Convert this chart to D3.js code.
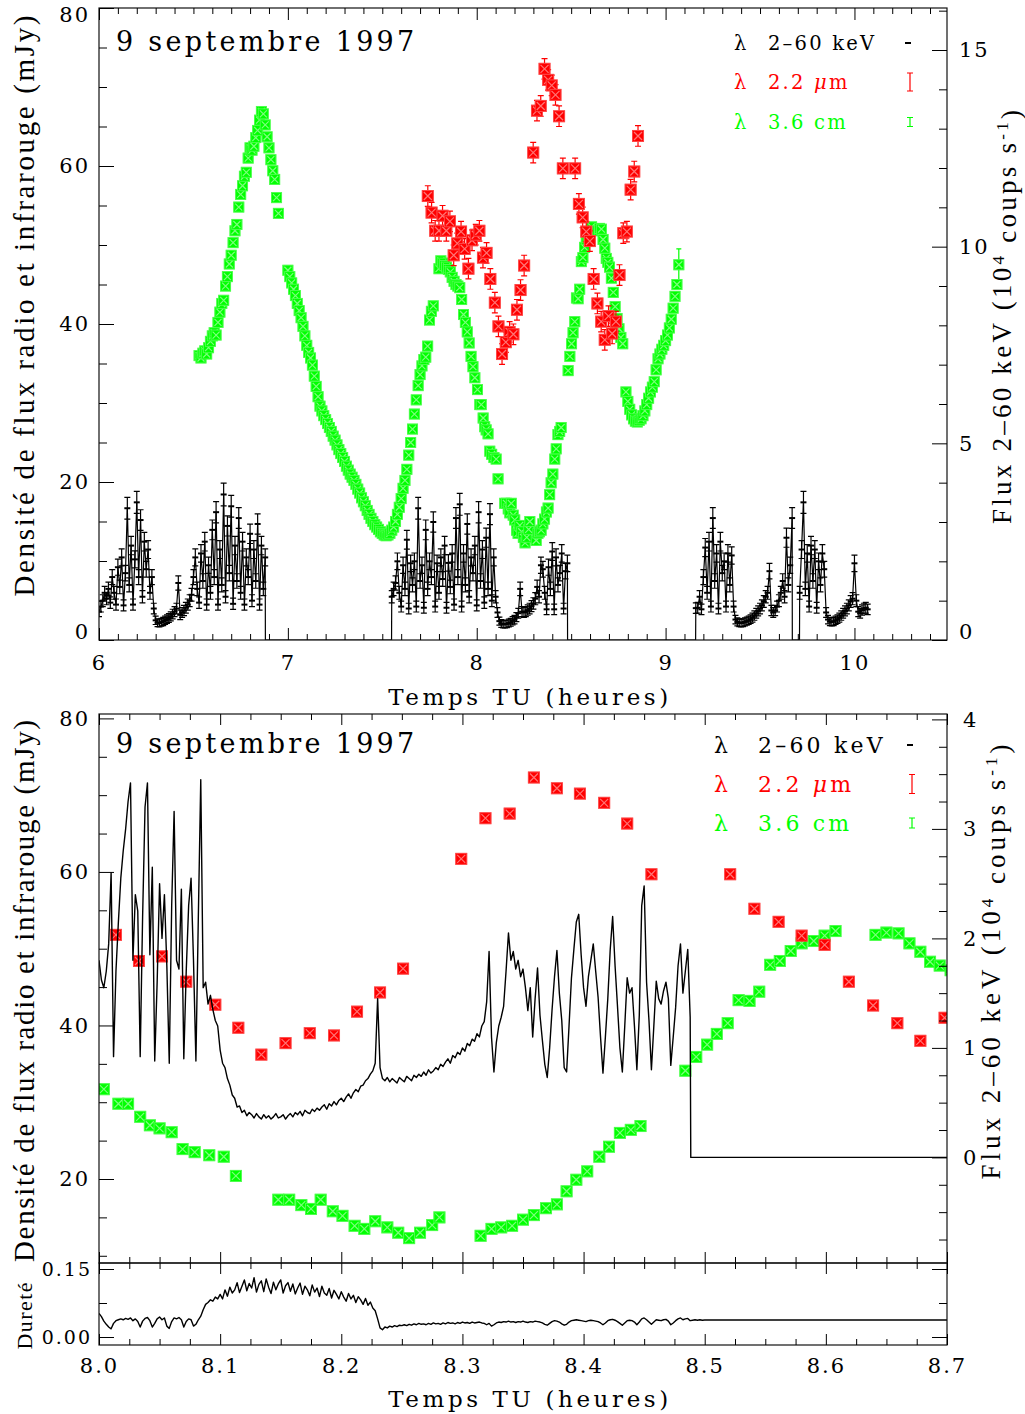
<!DOCTYPE html>
<html>
<head>
<meta charset="utf-8">
<script src="https://cdn.jsdelivr.net/npm/d3@7"></script>
<style>
  body { margin: 0; background: #fff; }
  svg text { font-family: "DejaVu Serif", serif; fill: #000; }
</style>
</head>
<body>
<svg id="chart" width="1025" height="1414"></svg>
<script>
// ---------------- data ----------------
// 2.2 micron (infrared) flux density, mJy
const irTime = [7.741,7.761,7.780,7.800,7.819,7.839,7.858,7.878,7.897,7.917,7.936,7.956,7.975,7.995,
  8.014,8.033,8.052,8.072,8.096,8.115,8.134,8.154,8.174,8.194,8.213,8.232,8.251,8.299,8.319,8.339,
  8.359,8.378,8.397,8.417,8.436,8.456,8.521,8.541,8.561,8.580,8.599,8.619,8.639,8.659,8.678,8.698,
  8.717,8.737,8.756,8.776,8.795,8.815,8.834,8.854];
const irFlux = [56.2,54.1,51.8,51.8,53.7,51.8,53.0,48.7,50.2,51.7,49.5,47.0,50.6,51.3,
  51.8,48.4,49.0,45.7,42.7,39.7,36.2,37.7,39.0,38.7,41.8,44.3,47.4,61.7,67.0,67.6,
  72.3,70.9,70.2,69.0,66.3,59.7,59.7,55.2,53.5,51.7,50.5,45.7,42.6,40.3,38.0,41.0,
  38.8,40.3,46.2,51.5,51.7,57.0,59.3,63.8];
const irErr = 1.3;

// 3.6 cm (radio) flux density, mJy — segments sampled every 0.01 h
const radioStep = 0.01;
const radioStarts = [6.53, 7.00, 7.80, 8.703, 8.79];
const radioA = [36.0,35.7,36.3,36.6,36.2,37.0,37.8,38.5,38.9,38.6,
  40.2,41.5,42.6,43.0,44.8,46.0,47.6,48.7,50.3,51.8,
  52.6,54.8,56.4,57.5,58.7,59.2,61.0,62.3,62.0,62.5,
  63.6,64.5,65.8,66.9,66.6,65.2,63.7,62.3,60.8,59.4,
  58.3,56.0,54.0];
const radioB = [46.8,46.0,45.2,44.4,43.6,42.6,41.7,40.8,39.7,38.5,
  37.3,36.4,35.7,34.8,33.4,32.1,30.8,29.6,29.0,28.4,
  27.9,27.4,26.9,26.4,25.8,25.3,24.7,24.1,23.6,23.1,
  22.6,22.0,21.5,21.0,20.6,20.2,19.7,19.1,18.6,18.0,
  17.5,17.0,16.4,15.9,15.4,15.0,14.6,14.3,14.0,13.7,
  13.5,13.3,13.2,13.3,13.5,13.9,14.3,15.0,15.9,16.8,
  17.9,19.2,20.2,21.6,23.4,25.0,26.7,28.6,30.4,32.2,
  33.6,34.7,35.5,35.8,37.2,40.5,41.6,42.3];
const radioC = [47.0,48.0,47.7,47.4,47.2,46.9,46.6,45.9,45.4,45.0,
  44.8,44.6,43.1,41.2,40.2,39.0,37.6,35.9,34.6,33.2];
const radioD = [47.2,45.8,44.0,42.2,40.7,39.4,38.3,37.5];
const radioE = [31.4,30.2,29.2,28.5,28.0,27.7,27.6,27.8,28.0,28.4,
  29.0,29.8,30.6,31.4,32.0,32.7,34.2,35.6,36.2,36.8,
  37.3,37.9,38.6,39.5,40.6,42.0,43.5,45.0,47.5];
// finer radio sampling around the 8.0–8.7 h zoom
const radioFineTime = [8.004,8.016,8.024,8.034,8.042,8.050,8.060,8.069,8.079,8.091,8.103,8.113,
  8.148,8.157,8.167,8.175,8.183,8.193,8.201,8.211,8.219,8.228,8.238,8.247,8.256,8.265,8.275,8.281,
  8.315,8.324,8.332,8.341,8.350,8.359,8.369,8.378,8.386,8.394,8.403,8.413,8.421,8.430,8.439,8.447,
  8.484,8.493,8.502,8.510,8.519,8.528,8.537,8.545,8.554,8.562,8.571,8.580,8.590,8.599,8.608,
  8.641,8.650,8.660,8.669,8.678,8.686,8.694];
const radioFineFlux = [31.7,29.8,29.8,28.1,27.0,26.6,26.1,23.9,23.5,23.1,22.9,20.4,
  17.3,17.3,16.6,16.1,17.3,15.8,15.2,13.9,13.5,14.5,13.7,13.0,12.3,13.0,14.0,15.0,
  12.6,13.5,13.7,13.9,14.7,15.3,16.2,16.7,18.4,19.9,21.0,22.9,24.2,26.0,26.4,26.9,
  34.1,35.9,37.5,38.9,40.3,43.3,43.2,44.4,47.9,48.4,49.7,50.7,51.0,51.7,52.3,
  51.8,52.1,52.0,50.7,49.6,48.3,47.8];
const radioErr = 0.5;
const radioLastErr = 2.0;

// 2–60 keV count rate (10^4 counts/s), 0.01 h bins, four observing windows
const xrayBinStep = 0.01;
const xrayStarts = [6.00, 7.55, 9.16, 9.71];
const xray1 = [0.72,0.85,1.00,1.20,1.05,1.30,
  0.95,1.60,1.20,0.90,1.85,1.35,2.10,0.88,1.70,3.35,1.40,2.40,0.90,2.05,
  3.50,1.60,3.05,1.10,2.50,1.80,2.30,1.20,1.60,0.80,
  0.50,0.44,0.43,0.45,0.47,0.50,0.53,0.56,0.60,0.66,
  0.72,0.80,1.45,0.64,0.70,0.75,0.82,0.90,1.00,1.15,
  1.60,2.10,1.30,0.95,2.20,1.50,2.50,0.90,1.90,1.20,
  2.80,1.60,3.25,0.90,2.30,1.40,3.70,1.10,2.90,1.70,
  3.40,0.92,2.40,1.50,3.10,1.20,2.50,0.90,2.10,1.60,
  2.70,1.00,2.30,1.50,2.95,0.90,2.40,1.30,2.10];
const xray2 = [1.10,1.30,1.45,2.00,1.20,
  0.85,1.90,1.30,2.55,0.80,1.95,1.40,2.00,0.85,3.35,
  1.50,1.90,0.82,2.80,1.30,2.00,1.60,3.00,0.85,1.95,
  1.20,2.10,1.55,2.40,0.82,1.96,1.35,2.20,0.90,3.10,
  1.60,3.45,0.85,2.20,1.40,2.95,1.10,2.10,1.70,2.40,
  0.88,3.25,1.50,2.30,0.95,2.60,1.30,3.20,1.00,2.10,
  1.10,0.70,0.48,0.42,0.40,0.40,0.41,0.43,0.45,0.49,
  0.52,0.58,0.68,1.30,0.72,0.70,0.72,0.76,0.80,0.86,
  0.93,1.05,
  1.35,1.10,1.90,1.80,1.20,0.78,1.85,1.30,2.25,0.78,
  2.10,1.40,1.70,2.20,0.80,1.75,1.95];
const xray3 = [0.81,0.82,1.10,0.78,
  1.60,2.35,1.20,2.50,0.85,3.10,1.50,2.20,0.80,2.50,1.70,2.00,0.85,2.20,1.40,2.15,0.85,
  0.52,0.46,0.44,0.43,0.44,0.46,0.48,0.50,0.53,0.57,0.62,0.68,0.74,0.80,0.88,0.98,1.10,1.20,
  1.75,0.75,0.70,0.75,0.85,1.00,1.20,1.50,1.10,2.60,1.40,1.90,3.10];
const xray4 = [1.20,2.30,3.50,1.30,2.20,0.85,2.40,1.50,2.30,0.82,2.00,1.40,2.20,1.80,
  0.70,0.52,0.47,0.46,0.47,0.50,0.53,0.57,0.62,0.68,0.74,0.80,0.88,0.98,1.05,1.95,
  1.00,0.72,0.68,0.76,0.80,0.82,0.78];
const xrayErrScale = 0.15;   // counting error ~ sqrt(rate)

// 2–60 keV high time resolution, every 0.002 h from 8.000 h
const xrayFineStart = 8.0, xrayFineStep = 0.002;
const xrayFine = [1.80,1.62,1.55,1.70,1.95,2.60,0.92,1.70,2.15,2.55,
  2.80,3.00,3.25,3.42,1.80,2.40,2.25,0.92,2.20,3.20,
  3.42,1.85,2.65,0.88,1.60,2.50,2.00,2.40,1.75,0.86,
  2.30,3.16,1.80,1.72,2.45,0.90,1.70,2.30,2.55,1.80,
  0.88,2.20,3.45,1.55,1.60,1.40,1.48,1.35,1.25,1.20,
  0.98,0.86,0.82,0.72,0.66,0.57,0.54,0.46,0.47,0.41,
  0.43,0.38,0.41,0.39,0.36,0.40,0.37,0.35,0.39,0.36,
  0.38,0.35,0.37,0.40,0.36,0.37,0.39,0.35,0.38,0.40,
  0.37,0.41,0.39,0.42,0.38,0.43,0.41,0.40,0.44,0.42,
  0.45,0.43,0.46,0.48,0.44,0.49,0.47,0.51,0.48,0.52,
  0.54,0.51,0.55,0.58,0.54,0.59,0.62,0.60,0.65,0.66,
  0.70,0.72,0.76,0.79,0.86,1.45,0.82,0.72,0.70,0.73,
  0.69,0.72,0.70,0.68,0.73,0.71,0.69,0.74,0.72,0.70,
  0.75,0.73,0.76,0.74,0.78,0.75,0.80,0.77,0.79,0.82,
  0.80,0.85,0.83,0.87,0.90,0.86,0.93,0.91,0.96,0.94,
  1.00,0.97,1.04,1.02,1.08,1.06,1.13,1.10,1.20,1.24,
  1.42,1.88,1.10,0.78,1.05,1.20,1.28,1.38,1.70,2.05,
  1.80,1.88,1.72,1.80,1.65,1.72,1.55,1.34,1.55,1.10,
  1.45,1.73,1.30,1.07,0.85,0.73,1.00,1.35,1.65,1.89,
  1.50,1.25,0.82,0.78,1.20,1.64,1.90,2.15,2.22,1.85,
  1.55,1.38,1.65,1.80,1.95,1.70,1.46,1.10,0.77,1.10,
  1.45,1.90,2.20,1.75,1.38,1.00,0.78,1.20,1.64,1.50,
  1.55,1.20,0.80,1.30,2.30,2.48,1.60,1.25,0.80,1.20,
  1.61,1.45,1.40,1.52,1.60,1.45,0.84,1.10,1.37,1.75,
  1.95,1.50,1.70,1.90,1.28];

// hardness ratio, every 0.002 h from 8.000 h, constant afterwards
const hardStart = 8.0, hardStep = 0.002, hardTail = 0.0375;
const hardness = [0.052,0.045,0.035,0.028,0.022,0.018,0.030,0.036,0.038,0.040,
  0.038,0.041,0.039,0.042,0.036,0.040,0.034,0.022,0.035,0.041,
  0.043,0.036,0.022,0.030,0.040,0.044,0.038,0.042,0.024,0.019,
  0.034,0.042,0.040,0.043,0.038,0.022,0.034,0.040,0.038,0.024,
  0.028,0.038,0.046,0.060,0.072,0.076,0.082,0.079,0.088,0.084,
  0.094,0.084,0.104,0.090,0.110,0.097,0.104,0.120,0.098,0.112,
  0.126,0.102,0.118,0.108,0.131,0.099,0.116,0.124,0.100,0.128,
  0.110,0.096,0.121,0.104,0.117,0.126,0.097,0.113,0.120,0.101,
  0.117,0.095,0.108,0.119,0.094,0.112,0.104,0.091,0.115,0.099,
  0.108,0.089,0.112,0.097,0.092,0.107,0.086,0.103,0.094,0.084,
  0.100,0.088,0.079,0.096,0.084,0.092,0.076,0.089,0.082,0.072,
  0.085,0.070,0.077,0.064,0.058,0.040,0.020,0.016,0.022,0.020,
  0.024,0.022,0.025,0.023,0.026,0.025,0.027,0.025,0.028,0.026,
  0.029,0.027,0.030,0.028,0.029,0.027,0.030,0.028,0.031,0.029,
  0.030,0.028,0.031,0.029,0.032,0.030,0.031,0.029,0.032,0.030,
  0.033,0.031,0.032,0.030,0.033,0.031,0.032,0.033,0.031,0.030,
  0.027,0.030,0.024,0.027,0.031,0.033,0.032,0.034,0.033,0.035,
  0.033,0.034,0.032,0.034,0.033,0.035,0.033,0.032,0.034,0.033,
  0.035,0.034,0.033,0.031,0.028,0.026,0.030,0.034,0.036,0.035,
  0.033,0.029,0.026,0.028,0.033,0.036,0.037,0.038,0.037,0.036,
  0.035,0.034,0.036,0.037,0.036,0.035,0.034,0.031,0.027,0.031,
  0.036,0.038,0.039,0.037,0.034,0.030,0.026,0.031,0.036,0.037,
  0.036,0.033,0.027,0.033,0.040,0.042,0.038,0.033,0.028,0.033,
  0.038,0.037,0.036,0.038,0.039,0.035,0.027,0.031,0.036,0.040,
  0.042,0.038,0.040,0.041,0.036,0.037,0.038,0.037,0.038,0.037,
  0.0375];

// text
const dateLabel = "9 septembre 1997";
const timeLabel = "Temps TU (heures)";
const fluxLabel = "Densité de flux radio et infrarouge (mJy)";
const hardLabel = "Dureté";

// ---------------- layout ----------------
const svg = d3.select("#chart");
const RED = "#ff0000", RED_T = "#ff9c9c";
const GREEN = "#00ff00", GREEN_T = "#a6ffa6";
const INK = "#000";

const P1 = {x0: 99, x1: 947, y0: 8, y1: 640};
const P2 = {x0: 99, x1: 947, y0: 714, y1: 1263};
const P3 = {x0: 99, x1: 947, y0: 1263, y1: 1345};

const xTop = d3.scaleLinear().domain([6, 10.49]).range([P1.x0, P1.x1]);
const yTopL = d3.scaleLinear().domain([0, 80]).range([P1.y1, P1.y0]);
const yTopR = d3.scaleLinear().domain([0, 15]).range([P1.y1, 50]);
const xBot = d3.scaleLinear().domain([8, 8.7]).range([P2.x0, P2.x1]);
const yBotL = d3.scaleLinear().domain([20, 80]).range([1179, 718.4]);
const yBotR = d3.scaleLinear().domain([0, 4]).range([1157.4, 719.4]);
const yHard = d3.scaleLinear().domain([0, 0.15]).range([1337, 1269]);

const defs = svg.append("defs");
[["clipTop", P1], ["clipBot", P2], ["clipHard", P3]].forEach(([id, p]) => {
  defs.append("clipPath").attr("id", id).append("rect")
    .attr("x", p.x0).attr("y", p.y0).attr("width", p.x1 - p.x0).attr("height", p.y1 - p.y0);
});

// ---------------- helpers ----------------
function seriesFromStart(start, step, vals) {
  return vals.map((v, i) => [start + i * step, v]);
}

function squares(g, pts, xs, ys, fill, tint, half) {
  const s = g.selectAll(null).data(pts).enter().append("g")
    .attr("transform", d => `translate(${xs(d[0])},${ys(d[1])})`);
  s.append("rect").attr("x", -half).attr("y", -half)
    .attr("width", 2 * half).attr("height", 2 * half).attr("fill", fill);
  const h = half - 2;
  s.append("path").attr("d", `M${-h},${-h}L${h},${h}M${h},${-h}L${-h},${h}`)
    .attr("stroke", tint).attr("stroke-width", 1.2).attr("opacity", 0.75);
  s.append("rect").attr("x", -half + 0.5).attr("y", -half + 0.5)
    .attr("width", 2 * half - 1).attr("height", 2 * half - 1)
    .attr("fill", "none").attr("stroke", tint).attr("stroke-width", 1).attr("opacity", 0.45);
}

function errorBars(g, pts, xs, ys, errFn, color, cap, width) {
  g.selectAll(null).data(pts).enter().append("path")
    .attr("fill", "none").attr("stroke", color).attr("stroke-width", width || 1)
    .attr("d", d => {
      const x = xs(d[0]), e = errFn(d);
      const ya = ys(d[1] - e), yb = ys(d[1] + e);
      return `M${x},${ya}L${x},${yb}M${x - cap},${ya}L${x + cap},${ya}M${x - cap},${yb}L${x + cap},${yb}`;
    });
}

function styleAxis(g, size, spacing) {
  g.attr("font-family", null).attr("font-size", null);
  g.select(".domain").remove();
  g.selectAll(".tick line").attr("stroke", INK).attr("stroke-width", 1);
  g.selectAll("text").attr("font-size", size).attr("letter-spacing", spacing)
    .attr("font-family", "DejaVu Serif");
}

function axisSet(g, axisFn, scale, majors, minors, majLen, minLen, fmt, pad, fsize) {
  const a = g.append("g");
  a.call(axisFn(scale).tickValues(minors).tickSize(-minLen).tickSizeOuter(0).tickFormat(""));
  styleAxis(a, fsize, 0);
  const b = g.append("g");
  const ax = axisFn(scale).tickValues(majors).tickSize(-majLen).tickSizeOuter(0).tickPadding(pad);
  ax.tickFormat(fmt || "");
  b.call(ax);
  styleAxis(b, fsize, 2);
  return b;
}

function frame(p) {
  svg.append("rect").attr("x", p.x0).attr("y", p.y0).attr("width", p.x1 - p.x0).attr("height", p.y1 - p.y0)
    .attr("fill", "none").attr("stroke", "#111").attr("stroke-width", 1.2);
}

function legend(g, x0, xText, rows, fsize, spacing) {
  rows.forEach(r => {
    g.append("text").attr("x", x0).attr("y", r.y).attr("dy", "0.35em")
      .attr("font-size", fsize).style("fill", r.color).text("λ");
    const t = g.append("text").attr("x", xText).attr("y", r.y).attr("dy", "0.35em")
      .attr("font-size", fsize).attr("letter-spacing", spacing).style("fill", r.color);
    r.parts.forEach(p => {
      t.append("tspan").attr("font-style", p.italic ? "italic" : null).text(p.s);
    });
    const bx = r.barX;
    if (r.bar === 0) {
      g.append("line").attr("x1", bx - 3).attr("x2", bx + 3).attr("y1", r.y).attr("y2", r.y)
        .attr("stroke", r.color).attr("stroke-width", 2);
    } else {
      g.append("path").attr("fill", "none").attr("stroke", r.color).attr("stroke-width", 1.2)
        .attr("d", `M${bx},${r.y - r.bar}L${bx},${r.y + r.bar}M${bx - r.cap},${r.y - r.bar}L${bx + r.cap},${r.y - r.bar}M${bx - r.cap},${r.y + r.bar}L${bx + r.cap},${r.y + r.bar}`);
    }
  });
}

function verticalTitle(x, y, len, size, build) {
  const t = svg.append("text").attr("transform", `translate(${x},${y}) rotate(-90)`)
    .attr("text-anchor", "middle").attr("dy", "0.35em")
    .style("font-family", "'Liberation Serif', serif")
    .attr("font-size", size);
  build(t);
  if (len) t.attr("textLength", len).attr("lengthAdjust", "spacing");
  return t;
}

function fluxTitle(t) {
  t.append("tspan").text("Flux 2–60 keV (10");
  t.append("tspan").attr("dy", "-0.45em").attr("font-size", 17).text("4");
  t.append("tspan").attr("dy", "0.45em").text(" coups s");
  t.append("tspan").attr("dy", "-0.45em").attr("font-size", 17).text("-1");
  t.append("tspan").attr("dy", "0.45em").text(")");
}

// labels at the ends of the top panel's value axes sit just inside the frame
function nudgeEnds(axisG, shifts) {
  axisG.selectAll(".tick text").attr("y", d => (shifts[d] !== undefined ? shifts[d] : 0));
}

// ================= TOP PANEL =================
const gTop = svg.append("g").attr("clip-path", "url(#clipTop)");

// X-ray binned light curve: gaps between windows fall back to zero
let xrayPts = [];
const xraySegs = [xray1, xray2, xray3, xray4];
xraySegs.forEach((vals, k) => {
  const seg = seriesFromStart(xrayStarts[k], xrayBinStep, vals);
  if (k > 0) xrayPts.push([seg[0][0] - 0.001, 0]);
  xrayPts = xrayPts.concat(seg);
  if (k < xraySegs.length - 1) xrayPts.push([seg[seg.length - 1][0] + 0.001, 0]);
});
const xrayBinned = xraySegs.flatMap((vals, k) => seriesFromStart(xrayStarts[k], xrayBinStep, vals));

gTop.append("path").datum(xrayPts)
  .attr("fill", "none").attr("stroke", INK).attr("stroke-width", 1.2)
  .attr("d", d3.line().x(d => xTop(d[0])).y(d => yTopR(d[1])));
errorBars(gTop, xrayBinned, xTop, yTopR, d => xrayErrScale * Math.sqrt(d[1]), INK, 3, 1.2);
gTop.selectAll(null).data(xrayBinned).enter().append("line")
  .attr("x1", d => xTop(d[0]) - 3).attr("x2", d => xTop(d[0]) + 3)
  .attr("y1", d => yTopR(d[1])).attr("y2", d => yTopR(d[1]))
  .attr("stroke", INK).attr("stroke-width", 2);

// radio
const radioSegs = [radioA, radioB, radioC, radioD, radioE];
const radioCoarse = radioSegs.flatMap((vals, k) => seriesFromStart(radioStarts[k], radioStep, vals));
const radioFine = radioFineTime.map((t, i) => [t, radioFineFlux[i]]);
const radioAll = radioCoarse.concat(radioFine).sort((a, b) => a[0] - b[0]);
const radioLastT = radioAll[radioAll.length - 1][0];
errorBars(gTop, radioAll, xTop, yTopL, d => (d[0] === radioLastT ? radioLastErr : radioErr), GREEN, 2.5, 1.2);
squares(gTop, radioAll, xTop, yTopL, GREEN, GREEN_T, 5.5);

// infrared
const irAll = irTime.map((t, i) => [t, irFlux[i]]);
errorBars(gTop, irAll, xTop, yTopL, () => irErr, RED, 3, 1.2);
squares(gTop, irAll, xTop, yTopL, RED, RED_T, 6);

frame(P1);
const gTopAx = svg.append("g");
const topLeftAx = axisSet(gTopAx.append("g").attr("transform", `translate(${P1.x0},0)`), d3.axisLeft, yTopL,
  [0, 20, 40, 60, 80], d3.range(5, 80, 5).filter(v => v % 20), 15, 8, d3.format("d"), 9, 21);
nudgeEnds(topLeftAx, {0: -8, 80: 7});
const topRightAx = axisSet(gTopAx.append("g").attr("transform", `translate(${P1.x1},0)`), d3.axisRight, yTopR,
  [0, 5, 10, 15], d3.range(1, 16.5, 1).filter(v => v % 5), 15, 8, d3.format("d"), 12, 21);
nudgeEnds(topRightAx, {0: -8});
const xTopMinor = d3.range(6.1, 10.49, 0.1).filter(v => Math.abs(v - Math.round(v)) > 0.01);
const xTopB = axisSet(gTopAx.append("g").attr("transform", `translate(0,${P1.y1})`), d3.axisBottom, xTop,
  [6, 7, 8, 9, 10], xTopMinor, 12, 6, d3.format("d"), 10, 21);
xTopB.selectAll("text").attr("y", 23).attr("dy", "0.35em");
axisSet(gTopAx.append("g").attr("transform", `translate(0,${P1.y0})`), d3.axisTop, xTop,
  [6, 7, 8, 9, 10], xTopMinor, 12, 6, null, 10, 21);

// texts
svg.append("text").attr("x", 116).attr("y", 42).attr("dy", "0.35em")
  .attr("font-size", 27).attr("letter-spacing", 3.3).text(dateLabel);
legend(svg.append("g"), 734, 768, [
  {y: 43, color: INK, parts: [{s: "2–60 keV"}], bar: 0, barX: 908},
  {y: 82, color: RED, parts: [{s: "2.2 "}, {s: "μ", italic: true}, {s: "m"}], bar: 9, cap: 3, barX: 910},
  {y: 122, color: GREEN, parts: [{s: "3.6 cm"}], bar: 4.5, cap: 3, barX: 910}
], 19.5, 2.2);
svg.append("text").attr("x", 530).attr("y", 697).attr("dy", "0.35em").attr("text-anchor", "middle")
  .attr("font-size", 23).attr("letter-spacing", 3.6).text(timeLabel);
verticalTitle(24, 306, 581, 29, t => t.text(fluxLabel));
verticalTitle(1002, 317, 414, 27, fluxTitle);

// ================= BOTTOM PANEL =================
const gBot = svg.append("g").attr("clip-path", "url(#clipBot)");
const radioZoom = radioAll.filter(d => d[0] > 7.98 && d[0] < 8.72);
squares(gBot, radioZoom, xBot, yBotL, GREEN, GREEN_T, 6);
const irZoom = irAll.filter(d => d[0] > 7.98 && d[0] < 8.72);
squares(gBot, irZoom, xBot, yBotL, RED, RED_T, 6);

const xrayFinePts = seriesFromStart(xrayFineStart, xrayFineStep, xrayFine);
const lastFine = xrayFinePts[xrayFinePts.length - 1][0];
const xrayFineLine = xrayFinePts.concat([[lastFine + 0.0005, 0], [8.7, 0]]);
gBot.append("path").datum(xrayFineLine)
  .attr("fill", "none").attr("stroke", INK).attr("stroke-width", 1.4).attr("stroke-linejoin", "round")
  .attr("d", d3.line().x(d => xBot(d[0])).y(d => yBotR(d[1])));

frame(P2);
const gBotAx = svg.append("g");
axisSet(gBotAx.append("g").attr("transform", `translate(${P2.x0},0)`), d3.axisLeft, yBotL,
  [20, 40, 60, 80], d3.range(10, 80, 5).filter(v => v % 20), 15, 8, d3.format("d"), 9, 21);
axisSet(gBotAx.append("g").attr("transform", `translate(${P2.x1},0)`), d3.axisRight, yBotR,
  [0, 1, 2, 3, 4], d3.range(-0.75, 4, 0.25).filter(v => Math.abs(v - Math.round(v)) > 0.01), 15, 8, d3.format("d"), 16, 21);
const xMaj = d3.range(8, 8.71, 0.1);
const xMin = d3.range(8.025, 8.7, 0.025).filter(v => Math.abs(v * 10 - Math.round(v * 10)) > 0.01);
axisSet(gBotAx.append("g").attr("transform", `translate(0,${P2.y0})`), d3.axisTop, xBot, xMaj, xMin, 11, 6, null, 8, 21);
axisSet(gBotAx.append("g").attr("transform", `translate(0,${P2.y1})`), d3.axisBottom, xBot, xMaj, xMin, 11, 6, null, 8, 21);

svg.append("text").attr("x", 116).attr("y", 744).attr("dy", "0.35em")
  .attr("font-size", 27).attr("letter-spacing", 3.3).text(dateLabel);
legend(svg.append("g"), 714, 758, [
  {y: 745, color: INK, parts: [{s: "2–60 keV"}], bar: 0, barX: 910},
  {y: 784, color: RED, parts: [{s: "2.2 "}, {s: "μ", italic: true}, {s: "m"}], bar: 9.5, cap: 3, barX: 912},
  {y: 823, color: GREEN, parts: [{s: "3.6 cm"}], bar: 5, cap: 3, barX: 912}
], 22, 3.2);
verticalTitle(24, 991, 542, 29, t => t.text(fluxLabel));
verticalTitle(991, 962, 435, 27, fluxTitle);

// ================= HARDNESS PANEL =================
const gHard = svg.append("g").attr("clip-path", "url(#clipHard)");
const hardPts = seriesFromStart(hardStart, hardStep, hardness).concat([[8.7, hardTail]]);
gHard.append("path").datum(hardPts)
  .attr("fill", "none").attr("stroke", INK).attr("stroke-width", 1.4).attr("stroke-linejoin", "round")
  .attr("d", d3.line().x(d => xBot(d[0])).y(d => yHard(d[1])));
frame(P3);
const gHardAx = svg.append("g");
axisSet(gHardAx.append("g").attr("transform", `translate(${P3.x0},0)`), d3.axisLeft, yHard,
  [0, 0.15], [0.075], 15, 8, d3.format(".2f"), 7, 19);
axisSet(gHardAx.append("g").attr("transform", `translate(${P3.x1},0)`), d3.axisRight, yHard,
  [0, 0.15], [0.075], 15, 8, null, 8, 19);
axisSet(gHardAx.append("g").attr("transform", `translate(0,${P3.y0})`), d3.axisTop, xBot, xMaj, xMin, 11, 6, null, 8, 21);
const xHardB = axisSet(gHardAx.append("g").attr("transform", `translate(0,${P3.y1})`), d3.axisBottom, xBot,
  xMaj, xMin, 11, 6, d3.format(".1f"), 10, 21);
xHardB.selectAll("text").attr("y", 21).attr("dy", "0.35em");

svg.append("text").attr("x", 530).attr("y", 1399).attr("dy", "0.35em").attr("text-anchor", "middle")
  .attr("font-size", 23).attr("letter-spacing", 3.6).text(timeLabel);
verticalTitle(24, 1316, 67, 22, t => t.text(hardLabel));
</script>
</body>
</html>
